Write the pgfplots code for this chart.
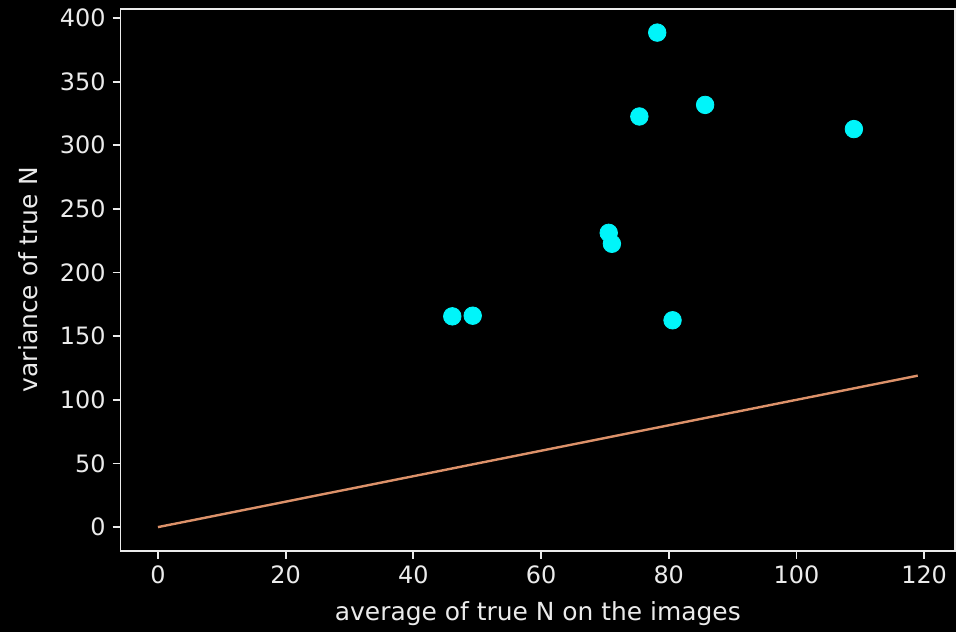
\documentclass[border=0pt]{standalone}
\usepackage{pgfplots}
\pgfplotsset{compat=1.18}
\usepackage{fontspec}
\setmainfont{DejaVu Sans}
\usetikzlibrary{backgrounds}
\definecolor{fg}{RGB}{235,235,235}
\definecolor{pt}{RGB}{0,245,250}
\definecolor{ln}{RGB}{220,145,105}
\begin{document}
\begin{tikzpicture}[background rectangle/.style={fill=black}, show background rectangle, inner frame sep=0pt]
\begin{axis}[
  scale only axis, width=418.7pt, height=272pt,
  xmin=-5.85, xmax=124.85, ymin=-18.6, ymax=407.3,
  axis line style={fg, line width=0.9pt},
  tick style={fg, line width=0.9pt},
  tick align=outside, tickpos=left,
  major tick length=4pt,
  xtick={0,20,...,120}, ytick={0,50,...,400},
  ticklabel style={font=\fontsize{12}{14}\selectfont, text=fg},
  /pgf/number format/assume math mode=true,
  xlabel={average of true N on the images},
  ylabel={variance of true N},
  label style={font=\fontsize{12.5}{14}\selectfont, text=fg},
  xlabel style={yshift=-2pt},
  ylabel style={yshift=4pt},
  clip=false,
]
\addplot[ln, line width=1.2pt] coordinates {(0,0) (119,119)};
\addplot[only marks, mark=*, mark size=4.4pt, mark options={fill=pt, draw=pt}] coordinates {
(46.1,165.6) (49.3,166.1) (70.6,231.2) (71.1,222.6) (75.4,322.6)
(78.2,388.5) (80.6,162.5) (85.7,331.7) (109.0,312.7)};
\end{axis}
\path (current axis.south west) ++(-60.5pt,-39.65pt) coordinate (bl);
\path (current axis.north east) ++(-1.2pt,4.35pt) coordinate (tr);
\path[use as bounding box] (bl) rectangle (tr);
\end{tikzpicture}
\end{document}
